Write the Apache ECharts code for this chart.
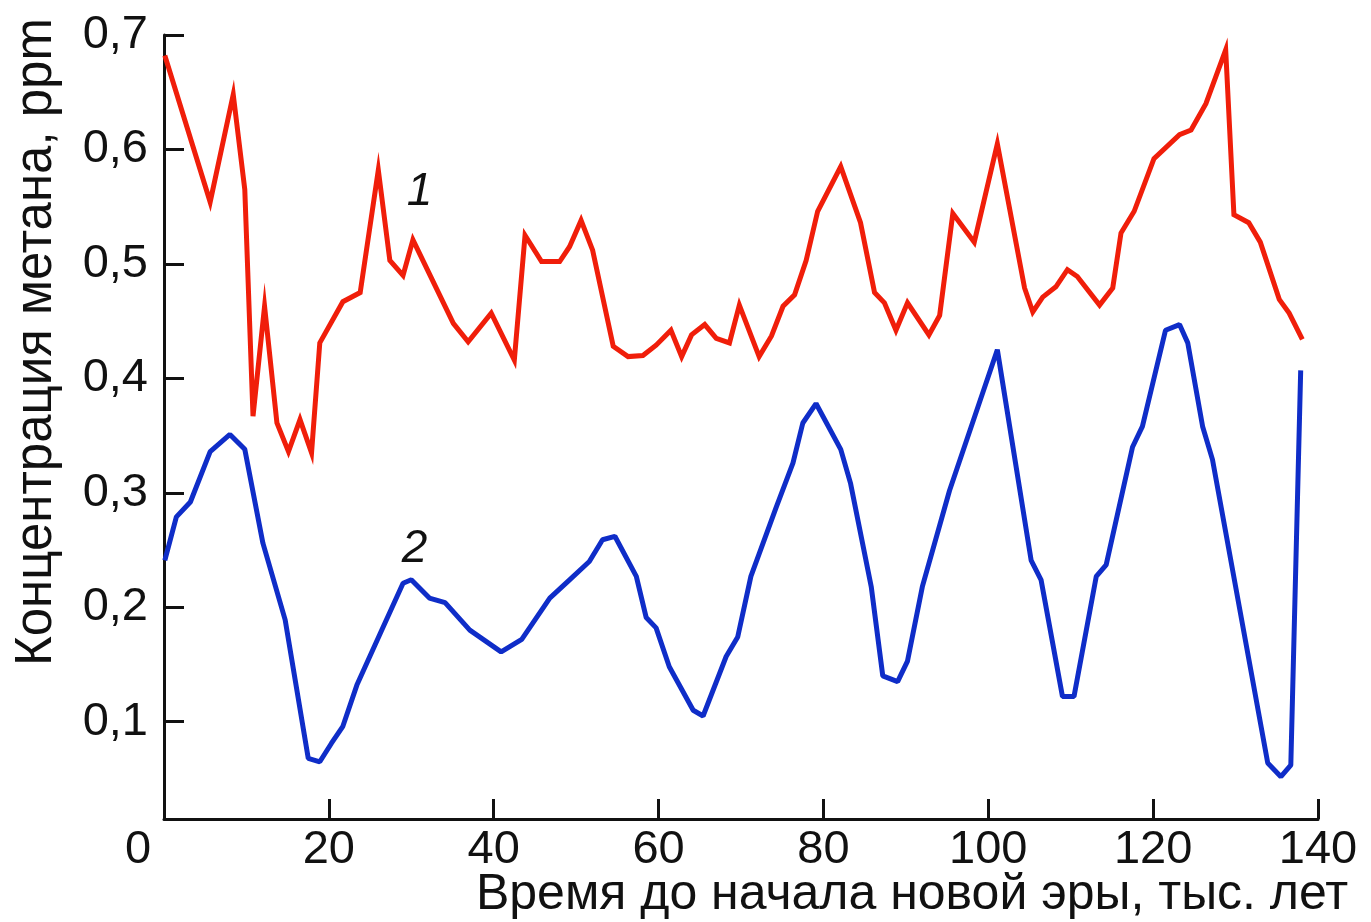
<!DOCTYPE html>
<html>
<head>
<meta charset="utf-8">
<script src="https://cdn.jsdelivr.net/npm/echarts@6/dist/echarts.min.js"></script>
<style>
html,body{margin:0;padding:0;background:#fff;}
#chart{width:1371px;height:922px;}
</style>
</head>
<body>
<div id="chart"></div>
<script>
// Curve 1 (red): time, kyr before present / methane, ppm
const redT = [0.1, 5.6, 8.4, 9.8, 10.8, 12.2, 13.7, 15.1, 16.5, 17.9, 18.9, 21.7, 23.8, 26.0, 27.4, 29.0, 30.2, 35.1, 36.9, 39.7, 42.5, 43.8, 45.8, 48.0, 49.2, 50.6, 52.0, 54.5, 56.3, 58.1, 59.7, 61.5, 62.8, 64.0, 65.6, 67.0, 68.6, 69.8, 72.2, 73.7, 75.1, 76.5, 77.9, 79.3, 82.1, 84.5, 86.2, 87.4, 88.8, 90.2, 92.8, 94.1, 95.7, 98.3, 101.1, 104.4, 105.4, 106.6, 108.2, 109.6, 110.8, 113.5, 115.1, 116.1, 117.7, 120.1, 123.2, 124.6, 126.4, 128.8, 129.8, 131.6, 133.0, 135.3, 136.5, 138.1];
const redV = [0.682, 0.554, 0.648, 0.565, 0.367, 0.463, 0.361, 0.336, 0.364, 0.335, 0.431, 0.467, 0.475, 0.582, 0.503, 0.490, 0.521, 0.448, 0.432, 0.457, 0.416, 0.525, 0.502, 0.502, 0.515, 0.538, 0.512, 0.428, 0.419, 0.420, 0.429, 0.442, 0.419, 0.438, 0.447, 0.435, 0.431, 0.464, 0.419, 0.437, 0.463, 0.473, 0.503, 0.546, 0.585, 0.536, 0.475, 0.466, 0.442, 0.466, 0.438, 0.455, 0.544, 0.519, 0.605, 0.479, 0.458, 0.471, 0.480, 0.495, 0.489, 0.464, 0.479, 0.527, 0.546, 0.592, 0.613, 0.617, 0.640, 0.687, 0.543, 0.536, 0.519, 0.469, 0.457, 0.434];
// Curve 2 (blue)
const blueT = [0.1, 1.5, 3.2, 5.6, 8.0, 9.8, 12.0, 14.7, 17.5, 18.9, 20.3, 21.7, 23.4, 26.6, 29.0, 30.0, 32.2, 34.1, 37.1, 40.9, 43.4, 46.8, 49.2, 51.6, 53.2, 54.7, 57.3, 58.5, 59.7, 61.3, 64.2, 65.4, 68.2, 69.6, 71.2, 74.3, 76.3, 77.5, 79.1, 82.1, 83.3, 85.8, 87.2, 89.0, 90.2, 92.0, 95.3, 101.1, 105.2, 106.4, 109.0, 110.4, 113.1, 114.3, 117.5, 118.7, 121.5, 123.2, 124.2, 126.0, 127.2, 133.9, 135.5, 136.7, 137.9];
const blueV = [0.241, 0.279, 0.292, 0.336, 0.351, 0.338, 0.256, 0.189, 0.068, 0.065, 0.081, 0.096, 0.132, 0.183, 0.221, 0.224, 0.208, 0.204, 0.180, 0.161, 0.172, 0.208, 0.224, 0.240, 0.259, 0.262, 0.227, 0.191, 0.182, 0.148, 0.110, 0.105, 0.157, 0.174, 0.227, 0.288, 0.326, 0.361, 0.378, 0.338, 0.308, 0.218, 0.140, 0.135, 0.153, 0.218, 0.302, 0.425, 0.241, 0.224, 0.122, 0.122, 0.227, 0.237, 0.340, 0.358, 0.442, 0.447, 0.431, 0.358, 0.329, 0.064, 0.052, 0.062, 0.407];
const xTicks = [0, 20, 40, 60, 80, 100, 120, 140];
const yTicks = [0.1, 0.2, 0.3, 0.4, 0.5, 0.6, 0.7];
const xName = 'Время до начала новой эры, тыс. лет';
const yName = 'Концентрация метана, ppm';
const curveLabels = [{name: '1', t: 31.0, v: 0.563}, {name: '2', t: 30.4, v: 0.251}];

const FONT = 'Liberation Sans, Arial, Helvetica, sans-serif';
const pairs = (ts, vs) => ts.map((t, i) => [t, vs[i]]);

const chart = echarts.init(document.getElementById('chart'), null, {renderer: 'canvas'});
chart.setOption({
  backgroundColor: '#ffffff',
  animation: false,
  grid: {left: 164, right: 53, top: 35, bottom: 103, containLabel: false, outerBoundsMode: 'none'},
  xAxis: {
    type: 'value', min: 0, max: 140,
    axisLine: {show: true, lineStyle: {color: '#111', width: 3}},
    axisTick: {show: true, inside: true, length: 20, customValues: xTicks, lineStyle: {color: '#111', width: 3}},
    axisLabel: {
      show: true, customValues: xTicks, margin: 8, color: '#111', fontFamily: FONT, fontSize: 47,
      formatter: v => v === 0 ? '{z|0}' : String(v),
      rich: {z: {fontFamily: FONT, fontSize: 47, color: '#111', padding: [0, 52, 0, 0]}}
    },
    splitLine: {show: false},
    name: xName, nameLocation: 'middle', nameGap: 51, nameMoveOverlap: false,
    nameTextStyle: {fontFamily: FONT, fontSize: 50, color: '#111', padding: [0, 0, 0, 342]}
  },
  yAxis: {
    type: 'value', min: 0.015, max: 0.7,
    axisLine: {show: true, lineStyle: {color: '#111', width: 3}},
    axisTick: {show: true, inside: true, length: 20, customValues: yTicks, lineStyle: {color: '#111', width: 3}},
    axisLabel: {
      show: true, customValues: yTicks, margin: 16, color: '#111', fontFamily: FONT, fontSize: 47,
      formatter: v => v.toFixed(1).replace('.', ',')
    },
    splitLine: {show: false},
    name: yName, nameLocation: 'middle', nameGap: 102, nameRotate: 90, nameMoveOverlap: false,
    nameTextStyle: {fontFamily: FONT, fontSize: 51, color: '#111', padding: [0, 0, 0, 170]}
  },
  series: [
    {
      type: 'line', name: '1', data: pairs(redT, redV), showSymbol: false, symbol: 'none',
      lineStyle: {color: '#f01e0a', width: 5, join: 'miter'}, z: 3,
      markPoint: {
        symbol: 'circle', symbolSize: 1, itemStyle: {color: 'rgba(0,0,0,0)'},
        label: {show: true, position: 'inside', color: '#111', fontFamily: FONT, fontSize: 46, fontStyle: 'italic', formatter: p => p.name},
        data: [{name: curveLabels[0].name, coord: [curveLabels[0].t, curveLabels[0].v]}]
      }
    },
    {
      type: 'line', name: '2', data: pairs(blueT, blueV), showSymbol: false, symbol: 'none',
      lineStyle: {color: '#0f2dc8', width: 5}, z: 3,
      markPoint: {
        symbol: 'circle', symbolSize: 1, itemStyle: {color: 'rgba(0,0,0,0)'},
        label: {show: true, position: 'inside', color: '#111', fontFamily: FONT, fontSize: 46, fontStyle: 'italic', formatter: p => p.name},
        data: [{name: curveLabels[1].name, coord: [curveLabels[1].t, curveLabels[1].v]}]
      }
    }
  ]
});
</script>
</body>
</html>
